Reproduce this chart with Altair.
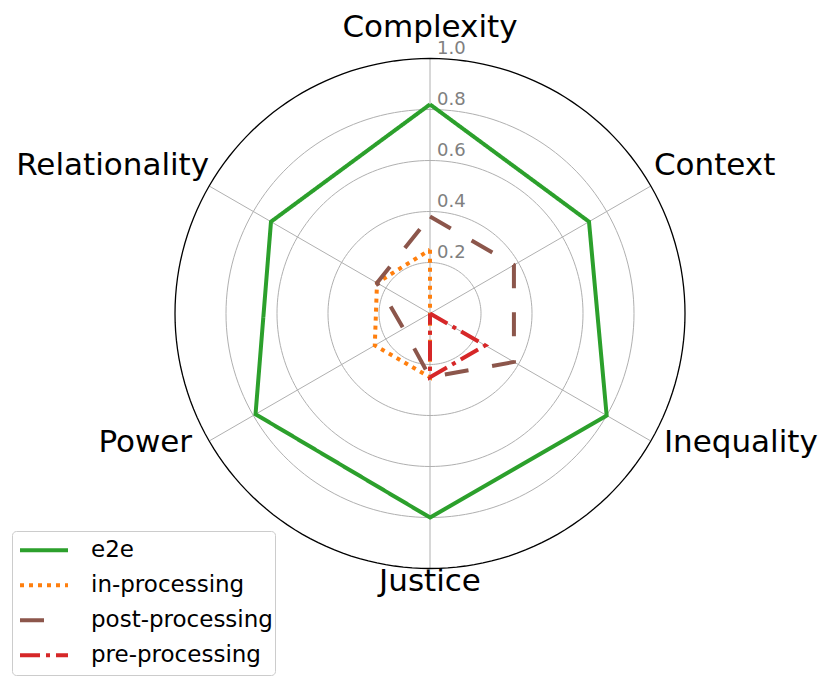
import math
import altair as alt
import pandas as pd

categories = ["Complexity", "Context", "Inequality", "Justice", "Power", "Relationality"]
series_names = ["e2e", "in-processing", "post-processing", "pre-processing"]
e2e = [0.82, 0.72, 0.80, 0.80, 0.79, 0.72]
in_processing = [0.25, 0.0, 0.0, 0.25, 0.25, 0.24]
post_processing = [0.38, 0.38, 0.38, 0.25, 0.12, 0.24]
pre_processing = [0.0, 0.0, 0.25, 0.25, 0.0, 0.0]
series_values = [e2e, in_processing, post_processing, pre_processing]
series_colors = ["#2ca02c", "#ff7f0e", "#8c564b", "#d62728"]
series_dashes = [[1, 0], [4, 5], [24, 24], [20, 6, 4, 6]]
ring_values = [0.2, 0.4, 0.6, 0.8]
tick_labels = ["0.2", "0.4", "0.6", "0.8", "1.0"]

N = len(categories)
FONT = "DejaVu Sans"

# ---- tables built from the lists above ----
rows = []
for name, vals in zip(series_names, series_values):
    for i in range(N + 1):
        rows.append({"series": name, "order": i, "value": vals[i % N]})
series_df = pd.DataFrame(rows)

ring_rows = []
for r in ring_values + [1.0]:
    for k in range(0, 181):
        ring_rows.append({"ring": r, "k": k, "outer": r == 1.0})
ring_df = pd.DataFrame(ring_rows)

cat_df = pd.DataFrame({"category": categories, "idx": list(range(N))})
tick_df = pd.DataFrame({"label": tick_labels, "r": [float(t) for t in tick_labels]})

# ---- scales (view 815x668, center at 422,305.5, 255 px per unit) ----
W, H = 815, 668
PX = 255.0
CX, CY = 422.0, 305.5
xscale = alt.Scale(domain=[-CX / PX, (W - CX) / PX], nice=False, zero=False)
yscale = alt.Scale(domain=[-(H - CY) / PX, CY / PX], nice=False, zero=False)

ANG = f"PI/2 - datum.idx*2*PI/{N}"

rings = alt.Chart(ring_df).transform_filter("!datum.outer").transform_calculate(
    a="datum.k*2*PI/180"
).transform_calculate(
    x="datum.ring*cos(datum.a)", y="datum.ring*sin(datum.a)"
).mark_line(color="#b0b0b0", strokeWidth=1).encode(
    x=alt.X("x:Q", scale=xscale, axis=None),
    y=alt.Y("y:Q", scale=yscale, axis=None),
    detail="ring:N",
    order="k:Q",
)

outer = alt.Chart(ring_df).transform_filter("datum.outer").transform_calculate(
    a="datum.k*2*PI/180"
).transform_calculate(
    x="datum.ring*cos(datum.a)", y="datum.ring*sin(datum.a)"
).mark_line(color="black", strokeWidth=1.3).encode(
    x=alt.X("x:Q", scale=xscale, axis=None),
    y=alt.Y("y:Q", scale=yscale, axis=None),
    order="k:Q",
)

spokes = alt.Chart(cat_df).transform_calculate(a=ANG).transform_calculate(
    x0="0", y0="0", x1="cos(datum.a)", y1="sin(datum.a)"
).mark_rule(color="#b0b0b0", strokeWidth=1).encode(
    x=alt.X("x0:Q", scale=xscale, axis=None),
    y=alt.Y("y0:Q", scale=yscale, axis=None),
    x2="x1:Q",
    y2="y1:Q",
)

ticks = alt.Chart(tick_df).transform_calculate(x0="0").mark_text(
    align="left", baseline="alphabetic", dx=7, dy=-5, fontSize=18, font=FONT, color="#808080"
).encode(
    x=alt.X("x0:Q", scale=xscale, axis=None),
    y=alt.Y("r:Q", scale=yscale, axis=None),
    text="label:N",
)

LR = 277.0 / PX
# inward shift (px) of side labels toward the chart centre
XSHIFT = f"(sin(datum.a) > 0 ? (cos(datum.a) > 0 ? 16 : 19) : (cos(datum.a) > 0 ? 6 : 2))/{PX}"


def cat_layer(filt, align):
    return alt.Chart(cat_df).transform_calculate(a=ANG).transform_calculate(
        x=f"{LR}*cos(datum.a) - (abs(cos(datum.a)) < 0.1 ? 0 : (cos(datum.a) > 0 ? 1 : -1)*{XSHIFT})",
        y=f"{LR}*sin(datum.a)",
    ).transform_filter(filt).mark_text(
        align=align, baseline="alphabetic", fontSize=31, font=FONT, color="black"
    ).encode(
        x=alt.X("x:Q", scale=xscale, axis=None),
        y=alt.Y("y:Q", scale=yscale, axis=None),
        text="category:N",
    )


labels_c = cat_layer("abs(cos(datum.a)) < 0.1", "center")
labels_r = cat_layer("cos(datum.a) >= 0.1", "left")
labels_l = cat_layer("cos(datum.a) <= -0.1", "right")

lines = alt.Chart(series_df).transform_calculate(
    a=f"PI/2 - datum.order*2*PI/{N}"
).transform_calculate(
    x="datum.value*cos(datum.a)", y="datum.value*sin(datum.a)"
).mark_line(strokeWidth=4, strokeJoin="miter").encode(
    x=alt.X("x:Q", scale=xscale, axis=None),
    y=alt.Y("y:Q", scale=yscale, axis=None),
    order="order:Q",
    color=alt.Color("series:N", scale=alt.Scale(domain=series_names, range=series_colors),
                    legend=alt.Legend(title=None)),
    strokeDash=alt.StrokeDash("series:N", scale=alt.Scale(domain=series_names, range=series_dashes),
                              legend=alt.Legend(title=None)),
)

chart = alt.layer(
    rings, spokes, outer, ticks, labels_c, labels_r, labels_l, lines
).properties(
    width=W, height=H, padding=0, autosize=alt.AutoSizeParams(type="none")
).configure_view(
    stroke=None
).configure_legend(
    orient="none",
    legendX=4,
    legendY=523,
    fillColor="white",
    strokeColor="#cccccc",
    cornerRadius=4,
    padding=2,
    symbolType="stroke",
    symbolSize=2304,
    symbolStrokeWidth=4,
    symbolOffset=4,
    clipHeight=34.5,
    labelFontSize=23,
    labelFont=FONT,
    labelColor="black",
    labelOffset=21,
    rowPadding=0,
    labelLimit=400,
)

chart.save("out.html", embed_options={"renderer": "svg", "actions": False})
